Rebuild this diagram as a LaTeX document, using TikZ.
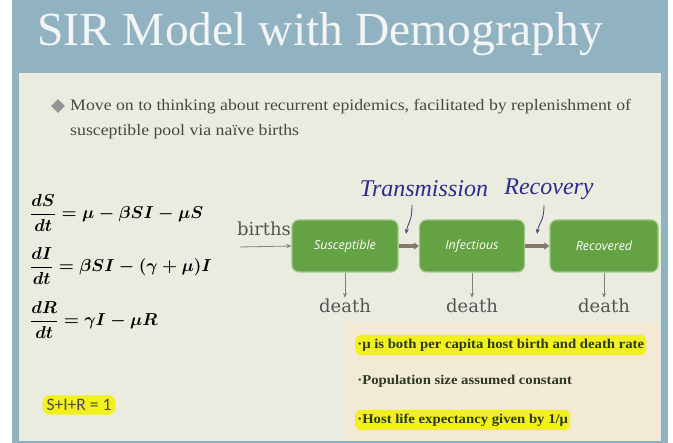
\documentclass[tikz,border=0pt]{standalone}
\usepackage{fontspec}
\setmainfont{Liberation Serif}
\newfontfamily\boxfont{Open Sans}
\newfontfamily\calfont{Carlito}
\newfontfamily\labfont{DejaVu Serif}
\usetikzlibrary{arrows.meta,shapes.geometric}
\definecolor{slideblue}{HTML}{91B3C1}
\definecolor{cream}{HTML}{E9ECDF}
\definecolor{beige}{HTML}{F3EAD6}
\definecolor{boxgreen}{HTML}{64A244}
\definecolor{boxedge}{HTML}{9CC88A}
\definecolor{flowgray}{HTML}{857868}
\definecolor{textgray}{HTML}{555555}
\definecolor{bodygray}{HTML}{474747}
\definecolor{scriptblue}{HTML}{2C2C8C}
\definecolor{hl}{HTML}{F2F01E}
\definecolor{notegreen}{HTML}{2B3824}
\definecolor{titlewhite}{HTML}{F2F5F4}
\newcommand\myeqS{{\boldmath$\displaystyle{dS\over dt}=\mu-\beta SI-\mu S$}}
\newcommand\myeqI{{\boldmath$\displaystyle{dI\over dt}=\beta SI-(\gamma+\mu)I$}}
\newcommand\myeqR{{\boldmath$\displaystyle{dR\over dt}=\gamma I-\mu R$}}
\tikzset{
  compbox/.style={draw=boxedge, line width=1.2pt, fill=boxgreen, rounded corners=7pt,
    minimum height=52pt, text=white, font=\boxfont\itshape\fontsize{12.5}{14}\selectfont},
  flowarrow/.style={draw=flowgray, line width=3.2pt, -{Triangle[length=5pt,width=7pt]}},
  thinarrow/.style={draw=gray, line width=0.8pt, -{Stealth[length=5pt,width=4pt]}},
  deathlbl/.style={text=textgray, font=\labfont\fontsize{18}{20}\selectfont},
  ratelbl/.style={text=scriptblue, font=\itshape\fontsize{24}{27}\selectfont},
  ratearrow/.style={draw=scriptblue!70!gray, line width=0.9pt, -{Stealth[length=5pt,width=4pt]}},
  eqnode/.style={anchor=west, inner sep=0pt, font=\fontsize{17}{20}\selectfont},
  bodytext/.style={anchor=base west, inner sep=0pt, text=bodygray, xscale=1.11, font=\fontsize{16}{19}\selectfont},
  notenode/.style={anchor=west, text=notegreen, xscale=1.09, font=\bfseries\fontsize{13.5}{15}\selectfont, inner xsep=2pt, inner ysep=4pt},
  notehl/.style={notenode, fill=hl, rounded corners=6pt}
}
\begin{document}
\begin{tikzpicture}[x=1pt,y=-1pt]
\useasboundingbox (0,0) rectangle (673,443);
\fill[white] (0,0) rectangle (673,443);
\fill[slideblue] (12,0) rectangle (668,443);
\fill[cream] (19,73) rectangle (661,441);
\fill[beige] (345,322) rectangle (660,441);
% title
\node[anchor=base west, inner sep=0pt, text=titlewhite, font=\fontsize{47.5}{52}\selectfont] (title) at (37,46) {SIR Model with Demography};
% bullet
\node[diamond, fill=gray!85, minimum width=14pt, minimum height=14pt, inner sep=0pt] (bul) at (58,106) {};
\node[bodytext] (l1) at (70,111) {Move on to thinking about recurrent epidemics, facilitated by replenishment of};
\node[bodytext] (l2) at (70,136) {susceptible pool via naïve births};
% equations
\node[eqnode] (eqa) at (30,213) {\myeqS};
\node[eqnode] (eqb) at (30,266) {\myeqI};
\node[eqnode] (eqc) at (30,320) {\myeqR};
\node[fill=hl, rounded corners=7pt, inner xsep=4pt, inner ysep=4pt, text=black!70, font=\calfont\fontsize{17.5}{19}\selectfont] (sir) at (79,405) {S+I+R = 1};
% compartments
\node[compbox, minimum width=106pt] (S) at (345,246) {Susceptible};
\node[compbox, minimum width=105pt] (I) at (472,246) {Infectious};
\node[compbox, minimum width=108pt] (R) at (604,246) {Recovered};
\draw[flowarrow] (S) -- (I);
\draw[flowarrow] (I) -- (R);
% births
\node[deathlbl, inner sep=0pt] (births) at (264,229) {births};
\coordinate (bstart) at (240,247);
\draw[thinarrow] (bstart) -- (S.west);
% deaths
\node[deathlbl, inner sep=1pt] (dS) at (345,306) {death};
\node[deathlbl, inner sep=1pt] (dI) at (472,306) {death};
\node[deathlbl, inner sep=1pt] (dR) at (604,306) {death};
\draw[thinarrow] (S.south) -- (dS.north);
\draw[thinarrow] (I.south) -- (dI.north);
\draw[thinarrow] (R.south) -- (dR.north);
% rates
\node[ratelbl] (trans) at (424,189) {Transmission};
\node[ratelbl] (recov) at (549,189) {Recovery};
\coordinate (t0) at (412,205);
\coordinate (t1) at (406,234);
\coordinate (r0) at (544,205);
\coordinate (r1) at (537,234);
\draw[ratearrow] (t0) .. controls (412,222) and (408,222) .. (t1);
\draw[ratearrow] (r0) .. controls (544,222) and (539,222) .. (r1);
% notes
\node[notehl] (n1) at (355,345) {·μ is both per capita host birth and death rate};
\node[notenode] (n2) at (355,381) {·Population size assumed constant};
\node[notehl] (n3) at (355,420) {·Host life expectancy given by 1/μ};
\end{tikzpicture}
\end{document}
